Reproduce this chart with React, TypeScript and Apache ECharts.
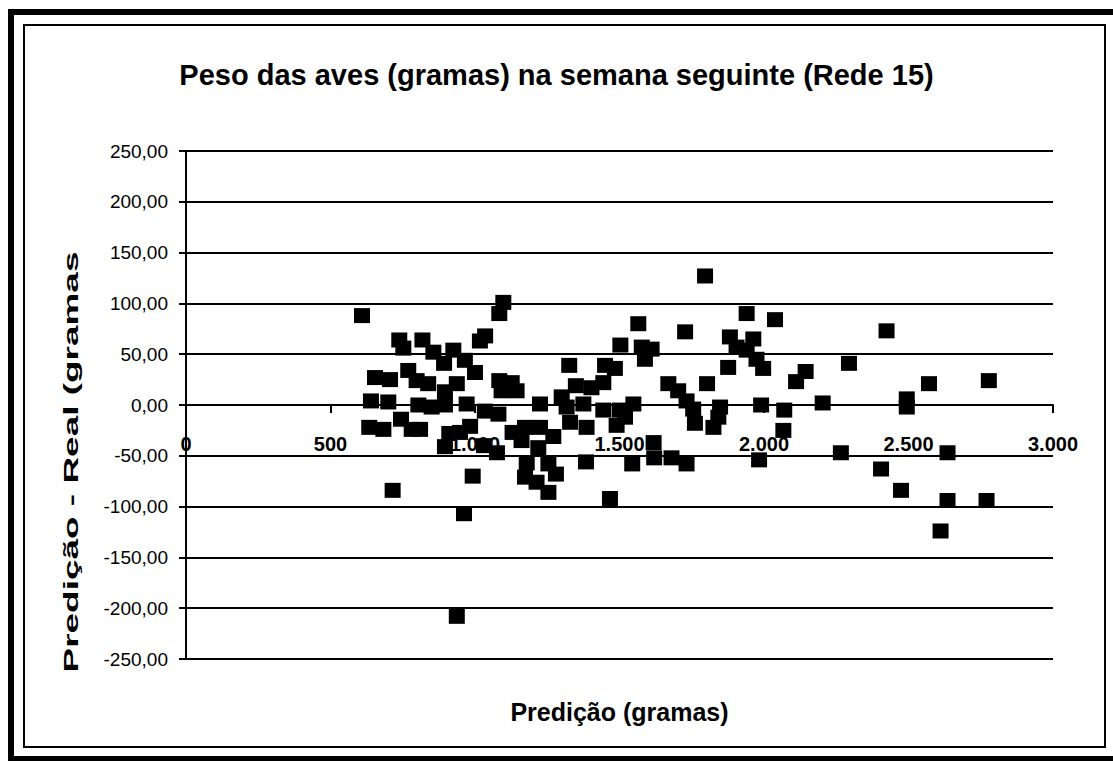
import React, { useEffect, useRef } from 'react';
import * as echarts from 'echarts';

const TITLE = 'Peso das aves (gramas) na semana seguinte (Rede 15)';
const X_NAME = 'Predição (gramas)';
const Y_NAME = 'Predição - Real (gramas';

// Predicted weight (g)
const predicao = [
  609, 640, 634, 654, 683, 700, 706, 715, 738, 752, 744, 769, 781, 798, 804, 810,
  818, 838, 850, 856, 893, 896, 896, 896, 911, 925, 937, 937, 948, 962, 965, 971,
  983, 992, 1000, 1017, 1035, 1031, 1034, 1076, 1081, 1084, 1084, 1098, 1092, 1127,
  1144, 1130, 1173, 1161, 1179, 1173, 1213, 1219, 1225, 1225, 1254, 1254, 1271, 1280,
  1300, 1317, 1329, 1326, 1349, 1375, 1386, 1384, 1403, 1444, 1444, 1450, 1484, 1490,
  1467, 1501, 1503, 1519, 1544, 1548, 1565, 1577, 1588, 1611, 1618, 1620, 1669, 1680,
  1703, 1727, 1732, 1732, 1755, 1761, 1796, 1803, 1825, 1842, 1848, 1876, 1882, 1905,
  1940, 1940, 1963, 1974, 1983, 1990, 1997, 2038, 2067, 2070, 2111, 2144, 2203, 2266,
  2294, 2405, 2424, 2474, 2494, 2494, 2571, 2611, 2635, 2635, 2770, 2778,
];

// Prediction - real (g)
const residuo = [
  88, 4, -22, 27, -24, 3, 25, -84, 64, 56, -14, 34, -24, 24, 0, -24,
  64, 21, -2, 52, 41, 13, 0, -41, -28, 54, 21, -208, -27, -107, 44, 1,
  -21, -70, 32, 63, 68, -40, -6, -47, -9, 24, 90, 101, 14, 22,
  14, -27, -22, -35, -57, -71, -76, -42, -22, 1, -58, -86, -31, -68,
  8, -2, -17, 39, 19, 1, -22, -56, 17, 22, -5, 39, 36, -20,
  -92, -5, 59, -12, -58, 1, 80, 57, 45, 55, -37, -52, 21, -52,
  14, 72, 4, -58, -4, -18, 127, 21, -22, -12, -2, 37, 67, 57,
  90, 54, 65, 45, -54, 0, 36, 84, -25, -5, 23, 33, 2, -47,
  41, -63, 73, -84, 6, -2, 21, -124, -47, -94, -94, 24,
];

const X_MIN = 0;
const X_MAX = 3000;
const X_STEP = 500;
const Y_MIN = -250;
const Y_MAX = 250;
const Y_STEP = 50;

const FONT = '"Liberation Sans", Arial, sans-serif';

export default function App() {
  const ref = useRef<HTMLDivElement>(null);

  useEffect(() => {
    if (!ref.current) return;
    const chart = echarts.init(ref.current, undefined, { renderer: 'svg' });
    const data = predicao.map((x, i) => [x, residuo[i]]);

    chart.setOption({
      animation: false,
      backgroundColor: '#fff',
      title: {
        text: TITLE,
        left: 'center',
        top: 55,
        textStyle: { fontFamily: FONT, fontSize: 29, fontWeight: 'bold', color: '#000' },
      },
      grid: {
        left: 186,
        right: 60,
        top: 151,
        bottom: 102,
        containLabel: false,
        outerBoundsMode: 'none',
      },
      xAxis: {
        type: 'value',
        min: X_MIN,
        max: X_MAX,
        interval: X_STEP,
        position: 'bottom',
        offset: -254,
        name: X_NAME,
        nameLocation: 'middle',
        nameGap: 294,
        nameTextStyle: { fontFamily: FONT, fontSize: 25, fontWeight: 'bold', color: '#000' },
        axisLine: { onZero: false, lineStyle: { color: '#000', width: 2 } },
        axisTick: { show: true, inside: false, length: 8, lineStyle: { color: '#000', width: 2 } },
        axisLabel: {
          fontFamily: FONT,
          fontSize: 20,
          fontWeight: 'bold',
          color: '#000',
          margin: 29,
          formatter: (v: number) => String(v).replace(/\B(?=(\d{3})+(?!\d))/g, '.'),
        },
        splitLine: { show: false },
      },
      yAxis: {
        type: 'value',
        min: Y_MIN,
        max: Y_MAX,
        interval: Y_STEP,
        axisLine: { show: true, onZero: false, lineStyle: { color: '#000', width: 2 } },
        axisTick: { show: true, inside: false, length: 7, lineStyle: { color: '#000', width: 2 } },
        axisLabel: {
          fontFamily: FONT,
          fontSize: 19,
          color: '#000',
          margin: 18,
          formatter: (v: number) => v.toFixed(2).replace('.', ','),
        },
        splitLine: { show: true, lineStyle: { color: '#000', width: 2 } },
      },
      graphic: [
        {
          type: 'rect',
          silent: true,
          shape: { x: 11, y: 12, width: 1110, height: 747 },
          style: { fill: 'none', stroke: '#000', lineWidth: 6 },
        },
        {
          type: 'rect',
          silent: true,
          shape: { x: 24, y: 25, width: 1081, height: 722 },
          style: { fill: 'none', stroke: '#000', lineWidth: 2 },
        },
        {
          type: 'text',
          x: 71,
          y: 462,
          rotation: Math.PI / 2,
          scaleX: 1.76,
          style: {
            text: Y_NAME,
            fontFamily: FONT,
            fontSize: 21,
            fontWeight: 'bold',
            fill: '#000',
            align: 'center',
            verticalAlign: 'middle',
            textAlign: 'center',
            textVerticalAlign: 'middle',
          },
        },
      ],
      series: [
        {
          type: 'scatter',
          data,
          symbol: 'rect',
          symbolSize: [16, 15],
          itemStyle: { color: '#000', opacity: 1 },
          z: 5,
        },
      ],
    });

    return () => chart.dispose();
  }, []);

  return (
    <div
      ref={ref}
      style={{ position: 'fixed', left: 0, top: 0, width: 1113, height: 761 }}
    />
  );
}
